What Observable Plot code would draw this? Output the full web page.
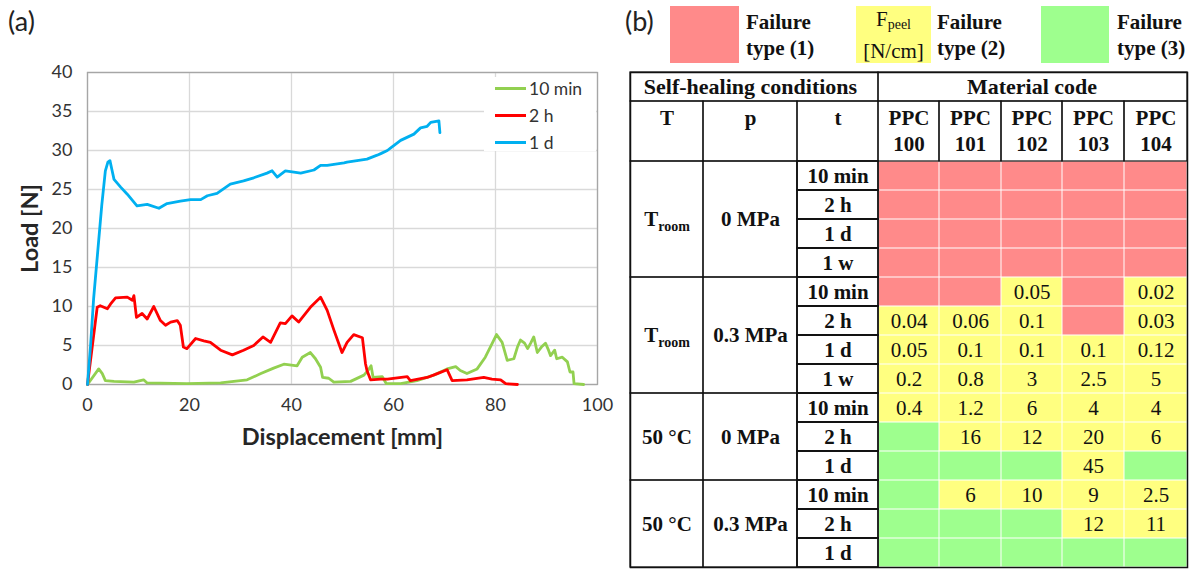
<!DOCTYPE html>
<html>
<head>
<meta charset="utf-8">
<script src="https://cdn.jsdelivr.net/npm/d3@7"></script>
<script src="https://cdn.jsdelivr.net/npm/@observablehq/plot@0.6"></script>
<style>
  html, body { margin: 0; padding: 0; background: #fff; }
  body { width: 1192px; height: 569px; overflow: hidden; position: relative; }
  .abs { position: absolute; }
  .panel { font-family: Lato, sans-serif; font-size: 27px; color: #222; }
  .lgA { font-family: Lato, sans-serif; font-size: 17.5px; color: #333; background: #fff; }
  .lgA .row { position: absolute; left: 11px; height: 20px; display: flex; align-items: center; }
  .lgA .sw { width: 31px; height: 3px; margin-right: 3px; }
  .lgB { font-family: "Liberation Serif", serif; font-size: 21px; line-height: 26px; color: #111; }
  .box { display: flex; align-items: center; justify-content: center; text-align: center; }
  .lbl { font-weight: bold; }
</style>
</head>
<body>
<div id="chartA" class="abs" style="left:0;top:0"></div>
<div id="chartB" class="abs" style="left:620px;top:68px"></div>
<div class="abs panel" style="left:8px;top:4px">(a)</div>
<div class="abs panel" style="left:625px;top:4px">(b)</div>
<div id="legendA" class="abs lgA" style="left:484px;top:77px;width:112px;height:74px"></div>
<div id="legendB"></div>
<script>
// ---------- (a) load–displacement curves ----------
const seriesNames = ["10 min", "2 h", "1 d"];
const seriesColors = ["#92d050", "#ff0000", "#00b0f0"];

const disp10min = [0, 2.2, 2.9, 3.5, 5.2, 9.1, 11.0, 11.7, 19.5, 26.1, 31.3, 34.0, 36.5, 38.5, 41.1, 42.1, 43.7, 44.7, 45.7, 46.1, 47.3, 48.3, 51.6, 54.2, 55.0, 55.6, 56.0, 57.8, 58.6, 61.4, 64.6, 67.9, 70.5, 72.2, 73.1, 74.4, 76.4, 78.0, 79.3, 80.2, 81.3, 82.3, 83.6, 84.3, 84.9, 85.7, 86.3, 86.9, 87.5, 88.2, 89.0, 89.8, 90.4, 90.8, 91.6, 92.0, 93.1, 94.1, 94.6, 95.2, 95.4, 97.3];
const load10min = [0, 2.0, 1.4, 0.5, 0.4, 0.3, 0.6, 0.2, 0.1, 0.2, 0.6, 1.4, 2.1, 2.6, 2.4, 3.5, 4.1, 3.3, 2.2, 0.9, 0.8, 0.3, 0.4, 1.2, 1.8, 2.4, 0.9, 1.0, 0.1, 0.1, 0.5, 1.2, 2.0, 2.3, 1.8, 1.4, 2.0, 3.5, 5.2, 6.4, 5.4, 3.1, 3.3, 4.8, 5.7, 5.3, 4.6, 5.3, 6.1, 4.1, 4.8, 5.3, 4.4, 3.7, 4.4, 3.3, 3.5, 2.9, 1.6, 1.6, 0.1, 0];

const disp2h = [0, 1.9, 2.5, 3.9, 4.5, 5.5, 7.8, 8.8, 9.1, 9.6, 10.7, 11.7, 13.0, 14.3, 15.3, 16.3, 17.6, 18.2, 18.8, 19.5, 21.2, 22.8, 24.1, 26.1, 28.4, 30.6, 32.6, 34.4, 35.9, 37.8, 38.8, 40.1, 41.4, 43.7, 45.7, 47.0, 48.3, 49.9, 50.9, 52.2, 53.9, 54.5, 54.8, 55.5, 57.5, 58.8, 62.7, 63.3, 66.6, 68.6, 70.5, 71.5, 74.4, 77.7, 79.3, 81.0, 82.0, 84.3];
const load2h = [0, 9.9, 10.1, 9.7, 10.3, 11.1, 11.2, 10.8, 11.4, 8.6, 9.1, 8.4, 10.0, 8.2, 7.6, 8.0, 8.2, 7.6, 4.8, 4.6, 5.9, 5.6, 5.4, 4.4, 3.8, 4.4, 5.0, 6.1, 5.4, 7.9, 7.8, 8.8, 8.0, 9.9, 11.2, 9.5, 7.0, 4.1, 5.4, 6.4, 6.0, 2.7, 1.8, 0.6, 0.7, 0.7, 1.0, 0.5, 0.9, 1.4, 1.9, 0.5, 0.6, 0.9, 0.7, 0.6, 0.1, 0];

const disp1d = [0, 0.6, 1.2, 2.2, 2.8, 3.5, 4.0, 4.4, 4.8, 5.2, 6.5, 7.8, 9.7, 11.7, 14.0, 15.6, 18.2, 20.2, 22.2, 23.5, 25.4, 28.0, 30.6, 32.6, 35.2, 36.2, 37.2, 38.8, 41.8, 44.4, 45.7, 47.0, 50.3, 50.9, 54.8, 56.8, 57.5, 58.8, 59.4, 61.4, 64.0, 65.3, 66.6, 67.3, 68.9, 69.1];
const load1d = [0, 5.0, 11.0, 18.5, 23.0, 27.4, 28.5, 28.7, 27.5, 26.3, 25.3, 24.4, 22.9, 23.1, 22.6, 23.2, 23.5, 23.7, 23.7, 24.2, 24.5, 25.7, 26.1, 26.5, 27.1, 27.4, 26.6, 27.4, 27.1, 27.5, 28.1, 28.1, 28.4, 28.5, 28.9, 29.4, 29.6, 30.0, 30.3, 31.3, 32.1, 32.9, 33.1, 33.6, 33.8, 32.3];

const xTicks = [0, 20, 40, 60, 80, 100];
const yTicks = [0, 5, 10, 15, 20, 25, 30, 35, 40];
const xTitle = "Displacement [mm]";
const yTitle = "Load [N]";

const curves = [];
[[disp10min, load10min], [disp2h, load2h], [disp1d, load1d]].forEach(([xs, ys], k) =>
  xs.forEach((x, i) => curves.push({series: seriesNames[k], x, y: ys[i]})));

const plotA = Plot.plot({
  width: 615, height: 460,
  marginLeft: 87, marginRight: 18, marginTop: 72, marginBottom: 76,
  style: {fontFamily: "Lato, sans-serif", fontSize: "18px", color: "#333", background: "transparent"},
  x: {domain: [0, 100], ticks: xTicks, tickSize: 0, tickPadding: 14, label: null},
  y: {domain: [0, 40], ticks: yTicks, tickSize: 0, tickPadding: 15, label: null},
  color: {domain: seriesNames, range: seriesColors},
  marks: [
    Plot.ruleX(xTicks, {stroke: "#d9d9d9", strokeWidth: 1.3}),
    Plot.ruleY(yTicks, {stroke: "#d9d9d9", strokeWidth: 1.3}),
    Plot.frame({stroke: "#a6a6a6", strokeWidth: 1.3}),
    Plot.line(curves, {x: "x", y: "y", z: "series", stroke: "series", strokeWidth: 2.8, strokeLinejoin: "round", strokeLinecap: "round"}),
    Plot.text([xTitle], {text: d => d, frameAnchor: "bottom", lineAnchor: "middle", dy: 53, fontSize: 23.5, fontWeight: "bold", fill: "#262626"}),
    Plot.text([yTitle], {text: d => d, frameAnchor: "left", textAnchor: "middle", dx: -57, rotate: -90, fontSize: 23.5, fontWeight: "bold", fill: "#262626"})
  ]
});
document.getElementById("chartA").appendChild(plotA);

// legend (a)
const lgA = document.getElementById("legendA");
seriesNames.forEach((name, i) => {
  const row = document.createElement("div");
  row.className = "row";
  row.style.top = (1 + i * 27) + "px";
  row.innerHTML = `<span class="sw" style="background:${seriesColors[i]}"></span><span>${name}</span>`;
  lgA.appendChild(row);
});

// ---------- (b) self-healing table ----------
const failureColors = ["#ff8a8a", "#ffff80", "#9eff8e"];
const failureLegend = ["Failure\ntype (1)", "Failure\ntype (2)", "Failure\ntype (3)"];
const groupHeaders = ["Self-healing conditions", "Material code"];
const conditionHeaders = ["T", "p", "t"];
const materialCodes = ["100", "101", "102", "103", "104"];
const tempLabels = ["Troom", "Troom", "50 °C", "50 °C"];
const pressureLabels = ["0 MPa", "0.3 MPa", "0 MPa", "0.3 MPa"];
const healingTimes = [
  ["10 min", "2 h", "1 d", "1 w"],
  ["10 min", "2 h", "1 d", "1 w"],
  ["10 min", "2 h", "1 d"],
  ["10 min", "2 h", "1 d"]
];
const failureTypes = [
  [1, 1, 1, 1, 1],
  [1, 1, 1, 1, 1],
  [1, 1, 1, 1, 1],
  [1, 1, 1, 1, 1],
  [1, 1, 2, 1, 2],
  [2, 2, 2, 1, 2],
  [2, 2, 2, 2, 2],
  [2, 2, 2, 2, 2],
  [2, 2, 2, 2, 2],
  [3, 2, 2, 2, 2],
  [3, 3, 3, 2, 3],
  [3, 2, 2, 2, 2],
  [3, 3, 3, 2, 2],
  [3, 3, 3, 3, 3]
];
const peelForces = [
  [null, null, null, null, null],
  [null, null, null, null, null],
  [null, null, null, null, null],
  [null, null, null, null, null],
  [null, null, 0.05, null, 0.02],
  [0.04, 0.06, 0.1, null, 0.03],
  [0.05, 0.1, 0.1, 0.1, 0.12],
  [0.2, 0.8, 3, 2.5, 5],
  [0.4, 1.2, 6, 4, 4],
  [null, 16, 12, 20, 6],
  [null, null, null, 45, null],
  [null, 6, 10, 9, 2.5],
  [null, null, null, 12, 11],
  [null, null, null, null, null]
];

// layout of the table grid (column / row edges in pixels)
const colEdges = [10, 83, 177, 258, 319, 381, 442, 504, 567];
const rowEdges = [4, 33, 93, 499];

const nc = conditionHeaders.length;
const nm = materialCodes.length;
const headerRows = 2;
const nRows = failureTypes.length;

const topHeader = [
  {x1: 0, x2: nc, y1: 0, y2: 1, label: groupHeaders[0]},
  {x1: nc, x2: nc + nm, y1: 0, y2: 1, label: groupHeaders[1]}
];
const subHeader = [
  ...conditionHeaders.map((h, i) => ({x1: i, x2: i + 1, y1: 1, y2: 2, label: h})),
  ...materialCodes.map((c, j) => ({x1: nc + j, x2: nc + j + 1, y1: 1, y2: 2, label: "PPC\n" + c}))
];
const groupCells = [], timeCells = [];
let r = headerRows;
healingTimes.forEach((times, g) => {
  const start = r;
  times.forEach(t => { timeCells.push({x1: 2, x2: 3, y1: r, y2: r + 1, label: t}); r++; });
  groupCells.push({x1: 0, x2: 1, y1: start, y2: r, label: tempLabels[g]});
  groupCells.push({x1: 1, x2: 2, y1: start, y2: r, label: pressureLabels[g]});
});
const cells = [];
failureTypes.forEach((row, i) => row.forEach((type, j) =>
  cells.push({x1: nc + j, x2: nc + j + 1, y1: headerRows + i, y2: headerRows + i + 1, type, value: peelForces[i][j]})));

const cx = d => (d.x1 + d.x2) / 2, cy = d => (d.y1 + d.y2) / 2;
const serif = "Liberation Serif, Times New Roman, serif";

const plotB = Plot.plot({
  width: 572, height: 501,
  marginLeft: colEdges[0], marginRight: 572 - colEdges[colEdges.length - 1],
  marginTop: rowEdges[0], marginBottom: 501 - rowEdges[rowEdges.length - 1],
  style: {fontFamily: serif, fontSize: "21px", color: "#111", background: "transparent"},
  x: {type: "linear", domain: d3.range(nc + nm + 1), range: colEdges, axis: null},
  y: {type: "linear", domain: [0, 1, headerRows, headerRows + nRows], range: rowEdges, axis: null},
  color: {type: "ordinal", domain: [1, 2, 3], range: failureColors},
  marks: [
    Plot.rect(cells, {x1: "x1", x2: "x2", y1: "y1", y2: "y2", fill: "type", inset: 0.5}),
    Plot.rect([...topHeader, ...subHeader, ...groupCells], {x1: "x1", x2: "x2", y1: "y1", y2: "y2", fill: "none", stroke: "#111", strokeWidth: 1.2}),
    Plot.rect(timeCells, {x1: "x1", x2: "x2", y1: "y1", y2: "y2", fill: "none", stroke: "#111", strokeWidth: 1.8}),
    Plot.frame({stroke: "#111", strokeWidth: 1.5}),
    Plot.text(topHeader, {x: cx, y: cy, text: "label", fontWeight: "bold", fontSize: 22}),
    Plot.text(subHeader, {x: cx, y: "y1", text: "label", fontWeight: "bold", fontSize: 21, lineAnchor: "top", dy: 5, lineHeight: 1.25}),
    Plot.text([...groupCells, ...timeCells], {x: cx, y: cy, text: "label", fontWeight: "bold", fontSize: 21}),
    Plot.text(cells.filter(d => d.value != null), {x: cx, y: cy, text: d => String(d.value), fontSize: 21})
  ]
});
// subscript "room" in T_room
plotB.querySelectorAll("text").forEach(t => {
  if (t.textContent === "Troom") {
    t.textContent = "";
    const ns = "http://www.w3.org/2000/svg";
    const a = document.createElementNS(ns, "tspan"); a.textContent = "T";
    const b = document.createElementNS(ns, "tspan"); b.textContent = "room";
    b.setAttribute("font-size", "14"); b.setAttribute("dy", "5");
    t.appendChild(a); t.appendChild(b);
  }
});
document.getElementById("chartB").appendChild(plotB);

// legend (b)
const lgB = document.getElementById("legendB");
const lgPos = [[670, 69, 746], [856, 75, 937], [1041, 68, 1117]];
failureColors.forEach((c, i) => {
  const [bx, bw, tx] = lgPos[i];
  const box = document.createElement("div");
  box.className = "abs lgB box";
  box.style.cssText = `left:${bx}px;top:6px;width:${bw}px;height:57px;background:${c}`;
  if (i === 1) box.innerHTML = `<div>F<sub style="font-size:14px;vertical-align:-3px">peel</sub><br>[N/cm]</div>`;
  lgB.appendChild(box);
  const lab = document.createElement("div");
  lab.className = "abs lgB lbl";
  lab.style.cssText = `left:${tx}px;top:9px;`;
  lab.innerHTML = failureLegend[i].replace("\n", "<br>");
  lgB.appendChild(lab);
});
</script>
</body>
</html>
